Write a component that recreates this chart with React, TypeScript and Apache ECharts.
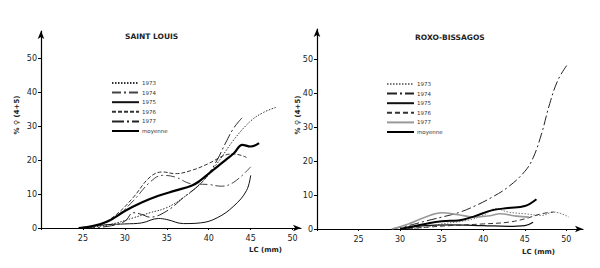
import React, { useEffect, useRef } from "react";
import * as echarts from "echarts";

// Saint Louis — % females (stages 4+5) by carapace length LC (mm)
const slY1973: number[][] = [[24.5, 0], [27, 0.5], [29, 1.5], [31, 3], [33, 4.5], [35, 6], [37, 9], [39, 13], [41, 19], [43, 26], [45, 31.5], [46.5, 34], [48, 35.5]];
const slY1974: number[][] = [[25, 0], [27, 1], [29, 3.5], [31, 8], [33, 13.5], [34.5, 15.5], [36, 15], [38, 13], [40, 12.8], [41.5, 12.3], [43, 13.5], [45, 18]];
const slY1975: number[][] = [[24.5, 0], [26, 0.5], [28, 1], [30, 1.2], [32, 1.5], [34, 2.8], [35, 2.5], [37, 1.3], [39, 1.5], [41, 3], [43, 6.5], [44.5, 11], [45, 15.5]];
const slY1976: number[][] = [[25, 0], [27, 1], [29, 4], [31, 9], [33, 15], [34.5, 16.5], [36, 16], [38, 17], [40, 19], [42, 21.5], [43, 21.8], [44.5, 20.8]];
const slY1977: number[][] = [[25, 0], [28, 0.5], [30, 2], [31, 4.5], [32, 4], [33, 3.2], [35, 5], [37, 9], [39, 13], [40, 16], [41, 20], [42, 25], [43, 29.5], [44, 32.5]];
const slMoyenne: number[][] = [[24.5, 0], [26, 0.5], [28, 2], [30, 5], [32, 7.5], [34, 9.5], [36, 11], [38, 12.5], [39, 14], [40, 16], [41, 18], [42, 20], [43, 22], [44, 24.5], [45, 24], [46, 25]];

// Roxo-Bissagos
const rbY1973: number[][] = [[31, 0], [33, 0.5], [35, 1.5], [38, 2.5], [40, 4], [41.5, 6], [43, 5], [45, 4.5], [47, 4], [48.5, 5], [50.3, 3.5]];
const rbY1974: number[][] = [[29, 0], [31, 1], [33, 2.3], [35, 3.5], [37, 4.8], [39, 6.8], [41, 9.3], [43, 12.4], [45, 17], [46, 21], [47, 28], [48, 37], [49, 44], [50.2, 48.8]];
const rbY1975: number[][] = [[30, 0], [33, 1], [36, 1.2], [40, 1], [43, 0.8], [45, 1], [46, 2]];
const rbY1976: number[][] = [[30, 0], [33, 0.5], [36, 1], [40, 1.5], [43, 2], [45, 3], [47, 4.5], [48.5, 5]];
const rbY1977: number[][] = [[29, 0], [31, 1.5], [33, 3.5], [35, 4.8], [37, 4.2], [39, 3.5], [41, 4], [42, 4.5], [44, 3.8], [45.5, 3.5]];
const rbMoyenne: number[][] = [[30, 0], [33, 1.5], [35, 2.3], [37, 2.5], [39, 3.8], [41, 5.5], [43, 6.2], [45, 6.8], [46.4, 8.8]];

const legendNames = ["1973", "1974", "1975", "1976", "1977", "moyenne"];
const titles = ["SAINT LOUIS", "ROXO-BISSAGOS"];
const xName = "LC (mm)";
const yName = "% \u2640 (4+5)";

const FONT = "DejaVu Sans";

export default function App() {
  const ref = useRef<HTMLDivElement>(null);
  useEffect(() => {
    if (!ref.current) return;
    const chart = echarts.init(ref.current, undefined, { renderer: "svg" });

    const slStyles = [
      { type: [1.5, 1.5], width: 1, color: "#333" },
      { type: [9, 3, 2, 3], width: 1, color: "#444" },
      { type: "solid", width: 1, color: "#111" },
      { type: [4, 2], width: 1, color: "#333" },
      { type: [12, 3, 2, 3], width: 1, color: "#222" },
      { type: "solid", width: 2.2, color: "#000" },
    ];
    const rbStyles = [
      { type: [1.5, 1.5], width: 1, color: "#777" },
      { type: [10, 3, 2, 3], width: 1, color: "#222" },
      { type: "solid", width: 1.3, color: "#111" },
      { type: [5, 3], width: 1, color: "#333" },
      { type: "solid", width: 1.6, color: "#999" },
      { type: "solid", width: 2, color: "#000" },
    ];
    const slData = [slY1973, slY1974, slY1975, slY1976, slY1977, slMoyenne];
    const rbData = [rbY1973, rbY1974, rbY1975, rbY1976, rbY1977, rbMoyenne];

    const mkSeries = (prefix: string, data: number[][][], styles: any[], idx: number) =>
      data.map((d, i) => ({
        type: "line",
        name: prefix + legendNames[i],
        xAxisIndex: idx,
        yAxisIndex: idx,
        data: d,
        smooth: 0.4,
        symbol: "none",
        lineStyle: styles[i],
        itemStyle: { color: styles[i].color },
        z: i === 5 ? 5 : 3,
      }));

    const axisCommon = {
      axisLine: { show: true, lineStyle: { color: "#000", width: 1.2 }, symbol: ["none", "arrow"], symbolSize: [5, 8] },
      axisTick: { show: true, length: 3, lineStyle: { color: "#000" } },
      splitLine: { show: false },
      axisLabel: { color: "#222", fontSize: 8, fontFamily: FONT, margin: 4 },
    };
    const xAxisFor = (gi: number, max: number) => ({
      type: "value",
      gridIndex: gi,
      min: 20,
      max,
      interval: 5,
      ...axisCommon,
      axisTick: { show: true, length: 2, inside: false, lineStyle: { color: "#000" } },
      axisLabel: {
        ...axisCommon.axisLabel,
        margin: 6,
        showMaxLabel: false,
        formatter: (v: number) => (v === 20 || v > 50 ? "" : String(v)),
      },
    });
    const yAxisFor = (gi: number, max: number) => ({
      type: "value",
      gridIndex: gi,
      min: 0,
      max,
      interval: 10,
      ...axisCommon,
      axisLabel: {
        ...axisCommon.axisLabel,
        showMaxLabel: false,
        formatter: (v: number) => (v > 50 ? "" : String(v)),
      },
    });

    const legendFor = (prefix: string, left: number, top: number) => ({
      orient: "vertical",
      left,
      top,
      itemWidth: 27,
      itemHeight: 5,
      itemGap: 3.6,
      selectedMode: false,
      data: legendNames.map((n) => prefix + n),
      formatter: (name: string) => name.slice(3),
      itemStyle: { color: "transparent", borderColor: "transparent", borderWidth: 0, opacity: 0 },
      textStyle: { fontSize: 5.5, color: "#333", fontFamily: FONT, padding: [0, 0, 0, -2] },
    });

    chart.setOption({
      animation: false,
      backgroundColor: "#fff",
      title: [
        { text: titles[0], left: 120, top: 27, textStyle: { fontSize: 7.5, fontWeight: "bold", color: "#222", fontFamily: FONT } },
        { text: titles[1], left: 410, top: 28, textStyle: { fontSize: 7.5, fontWeight: "bold", color: "#222", fontFamily: FONT } },
      ],
      legend: [legendFor("SL ", 106, 75), legendFor("RB ", 381, 76)],
      grid: [
        { left: 41, top: 31, width: 260, height: 197 },
        { left: 317, top: 29, width: 266, height: 200 },
      ],
      xAxis: [xAxisFor(0, 51), xAxisFor(1, 52)],
      yAxis: [yAxisFor(0, 58), yAxisFor(1, 59)],
      series: [...mkSeries("SL ", slData, slStyles, 0), ...mkSeries("RB ", rbData, rbStyles, 1)],
      graphic: [
        { type: "text", x: 249, y: 246, style: { text: xName, fill: "#222", font: `bold 7px ${FONT}` } },
        { type: "text", x: 522, y: 248, style: { text: xName, fill: "#222", font: `bold 7px ${FONT}` } },
        { type: "text", x: 17, y: 115, rotation: Math.PI / 2, style: { text: yName, fill: "#222", font: `bold 7px ${FONT}`, align: "center", verticalAlign: "middle" } },
        { type: "text", x: 298, y: 115, rotation: Math.PI / 2, style: { text: yName, fill: "#222", font: `bold 7px ${FONT}`, align: "center", verticalAlign: "middle" } },
      ],
    } as any);
    return () => chart.dispose();
  }, []);
  return <div ref={ref} style={{ width: 600, height: 268, position: "absolute", left: 0, top: 0 }} />;
}
